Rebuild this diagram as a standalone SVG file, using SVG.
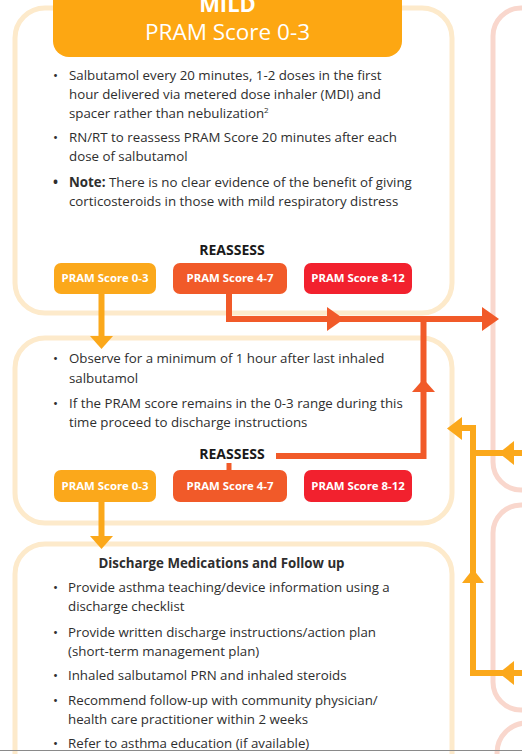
<svg xmlns="http://www.w3.org/2000/svg" width="522" height="754" viewBox="0 0 522 754">
<defs>
<style>
.box{fill:#fff;stroke:#FDEACB;stroke-width:5}
.pbox{fill:none;stroke:#F9D7CD;stroke-width:5}
.t{font-family:"Open Sans","Liberation Sans",sans-serif;font-size:13.3px;fill:#2e2e2e}
.b{font-weight:bold}
.h{font-family:"Open Sans","Liberation Sans",sans-serif;font-size:14px;font-weight:bold;fill:#1a1a1a;text-anchor:middle}
.pt{font-family:"Open Sans","Liberation Sans",sans-serif;font-size:11.4px;font-weight:bold;fill:#fff;text-anchor:middle}
.y{fill:#FBA81B}
.o{fill:#F15A29}
.r{fill:#F2212E}
.ly{fill:none;stroke:#FBA81B;stroke-width:6}
.lo{fill:none;stroke:#F15A29;stroke-width:6}
</style>
</defs>
<rect width="522" height="754" fill="#fff"/>
<g id="pink-boxes">
<rect class="pbox" x="493" y="8" width="100" height="482" rx="28"/>
<rect class="pbox" x="493" y="505" width="100" height="205" rx="28"/>
<rect class="pbox" x="497" y="723" width="100" height="100" rx="30"/>
</g>
<g id="box-mild">
<rect class="box" x="15" y="8" width="437" height="305" rx="30"/>
<rect x="53" y="-30" width="349" height="87" rx="16" fill="#FDA712"/>
<text x="227.5" y="12" font-family="'Open Sans','Liberation Sans',sans-serif" font-size="22" font-weight="bold" fill="#fff" text-anchor="middle">MILD</text>
<text x="227.5" y="40" font-family="'Open Sans','Liberation Sans',sans-serif" font-size="22.5" fill="#fff" text-anchor="middle">PRAM Score 0-3</text>
<text class="t" x="53" y="80">•</text>
<text class="t" x="69" y="80">Salbutamol every 20 minutes, 1-2 doses in the first</text>
<text class="t" x="69" y="99">hour delivered via metered dose inhaler (MDI) and</text>
<text class="t" x="69" y="118">spacer rather than nebulization<tspan font-size="8" dy="-5">2</tspan></text>
<text class="t" x="53" y="142">•</text>
<text class="t" x="69" y="142">RN/RT to reassess PRAM Score 20 minutes after each</text>
<text class="t" x="69" y="161">dose of salbutamol</text>
<text class="t b" x="53" y="187">•</text>
<text class="t" x="69" y="187"><tspan class="b">Note:</tspan> There is no clear evidence of the benefit of giving</text>
<text class="t" x="69" y="206">corticosteroids in those with mild respiratory distress</text>
<text class="h" x="232" y="255">REASSESS</text>
</g>
<g id="pill-1-03"><rect class="y" x="54" y="263" width="102" height="31" rx="7"/><text class="pt" x="105" y="282">PRAM Score 0-3</text></g>
<g id="pill-1-47"><rect class="o" x="173" y="263" width="114" height="31" rx="7"/><text class="pt" x="230" y="282">PRAM Score 4-7</text></g>
<g id="pill-1-812"><rect class="r" x="304" y="263" width="108" height="31" rx="7"/><text class="pt" x="358" y="282">PRAM Score 8-12</text></g>
<g id="box-observe">
<rect class="box" x="15" y="338" width="437" height="185" rx="30"/>
<text class="t" x="53" y="363">•</text>
<text class="t" x="69" y="363">Observe for a minimum of 1 hour after last inhaled</text>
<text class="t" x="69" y="383">salbutamol</text>
<text class="t" x="53" y="408">•</text>
<text class="t" x="69" y="408">If the PRAM score remains in the 0-3 range during this</text>
<text class="t" x="69" y="427">time proceed to discharge instructions</text>
<text class="h" x="232" y="459">REASSESS</text>
</g>
<g id="pill-2-03"><rect class="y" x="54" y="470" width="102" height="32" rx="7"/><text class="pt" x="105" y="490">PRAM Score 0-3</text></g>
<g id="pill-2-47"><rect class="o" x="173" y="470" width="114" height="32" rx="7"/><text class="pt" x="230" y="490">PRAM Score 4-7</text></g>
<g id="pill-2-812"><rect class="r" x="304" y="470" width="108" height="32" rx="7"/><text class="pt" x="358" y="490">PRAM Score 8-12</text></g>
<g id="box-discharge">
<rect class="box" x="15" y="544" width="437" height="240" rx="30"/>
<text class="t b" x="221.5" y="568" text-anchor="middle" fill="#1a1a1a">Discharge Medications and Follow up</text>
<text class="t" x="53" y="592">•</text>
<text class="t" x="68" y="592">Provide asthma teaching/device information using a</text>
<text class="t" x="68" y="611">discharge checklist</text>
<text class="t" x="53" y="637">•</text>
<text class="t" x="68" y="637">Provide written discharge instructions/action plan</text>
<text class="t" x="68" y="656">(short-term management plan)</text>
<text class="t" x="53" y="680">•</text>
<text class="t" x="68" y="680">Inhaled salbutamol PRN and inhaled steroids</text>
<text class="t" x="53" y="705">•</text>
<text class="t" x="68" y="705">Recommend follow-up with community physician/</text>
<text class="t" x="68" y="724">health care practitioner within 2 weeks</text>
<text class="t" x="53" y="748">•</text>
<text class="t" x="68" y="748">Refer to asthma education (if available)</text>
</g>
<g id="connectors">
<line class="ly" x1="101.5" y1="294" x2="101.5" y2="338"/>
<polygon class="y" points="90,336 113,336 101.5,349"/>
<path class="lo" d="M229,294 V319 H490"/>
<polygon class="o" points="327,307 327,331 344,319"/>
<polygon class="o" points="482,307 482,331 499,319"/>
<path class="lo" d="M276,456 H423.5 V319"/>
<polygon class="o" points="412,392 435,392 423.5,379"/>
<line x1="229" y1="463" x2="229" y2="471" stroke="#F15A29" stroke-width="5"/>
<line class="ly" x1="101.5" y1="502" x2="101.5" y2="538"/>
<polygon class="y" points="90,536 113,536 101.5,549"/>
<path class="ly" d="M522,673 H473 V428 H458"/>
<line class="ly" x1="522" y1="453" x2="473" y2="453"/>
<polygon class="y" points="462,417 462,440 447,428.5"/>
<polygon class="y" points="514,441 514,465 499,453"/>
<polygon class="y" points="514,661 514,685 499,673"/>
<polygon class="y" points="462,583 484,583 473,569"/>
</g>
<line x1="0" y1="750.5" x2="522" y2="750.5" stroke="#8a8a8a" stroke-width="1"/>
</svg>
